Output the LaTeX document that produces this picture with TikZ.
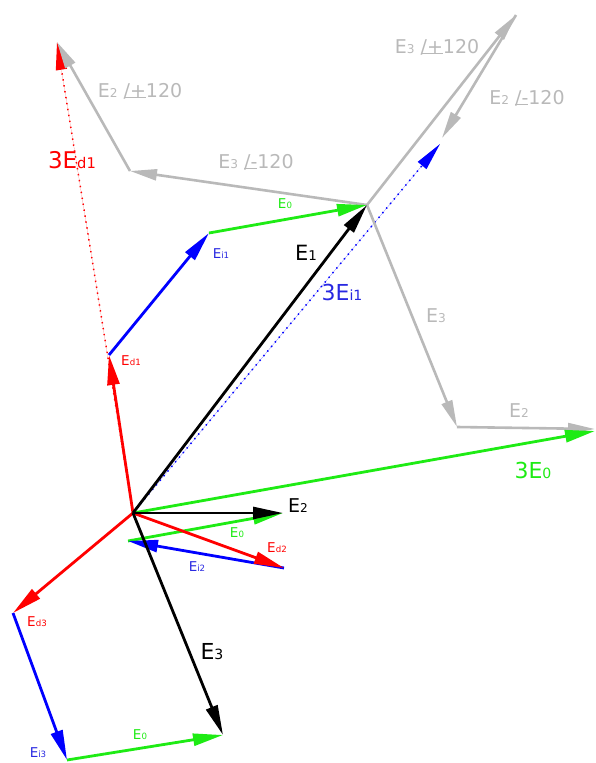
\documentclass[tikz,border=0pt]{standalone}
\usepackage{fontspec}
\setmainfont{DejaVu Sans}
\usetikzlibrary{arrows.meta}
\definecolor{vgreen}{RGB}{30,235,20}
\definecolor{vred}{RGB}{255,0,0}
\definecolor{vblue}{RGB}{0,0,255}
\definecolor{vgray}{RGB}{185,185,185}
\definecolor{tgray}{RGB}{185,185,185}
\definecolor{tblue}{RGB}{40,40,225}
\newsavebox\anglbox
\newcommand\sbx[1]{{\fontsize{0.64em}{0.7em}\selectfont #1}}
\newcommand\angl[1]{\sbox\anglbox{/#1}\rlap{\rule[-0.03em]{\wd\anglbox}{0.06em}}\usebox\anglbox\relax}
\begin{document}
\begin{tikzpicture}[x=1pt,y=-1pt,
  vec/.style={line width=2.8pt,-{Triangle[length=30pt,width=12pt]}},
  gvec/.style={line width=2.6pt,draw=vgray,-{Triangle[length=27pt,width=11pt]}},
  dotvec/.style={line width=1.5pt,dash pattern=on 1.4pt off 4.6pt,-{Triangle[length=28pt,width=11pt]}},
  biglbl/.style={inner sep=0pt,font=\fontsize{21}{24}\selectfont},
  graylbl/.style={inner sep=0pt,text=tgray,font=\fontsize{19}{22}\selectfont},
  smalllbl/.style={inner sep=0pt,font=\fontsize{13.5}{16}\selectfont}]
\useasboundingbox (0,0) rectangle (595,763);
% points
\coordinate (O) at (133,513);
\coordinate (A) at (109,355);
\coordinate (B) at (209,233);
\coordinate (C) at (367,205);
\coordinate (D) at (130,171);
\coordinate (F) at (57,42);
\coordinate (G) at (516,15);
\coordinate (H) at (442,138);
\coordinate (Hb) at (440,144);
\coordinate (I) at (457,427);
\coordinate (J) at (595,429);
\coordinate (K) at (595,431);
\coordinate (L) at (283,513);
\coordinate (M) at (128,541);
\coordinate (N) at (284,568);
\coordinate (P) at (13,613);
\coordinate (Q) at (67,760);
\coordinate (R) at (223,735);
% dotted resultants
\draw[dotvec,draw=vred,fill=vred] (O) -- (F);
\draw[dotvec,draw=vblue,fill=vblue] (O) -- (Hb);
% gray construction
\draw[gvec] (C) -- (D);
\draw[gvec] (D) -- (F);
\draw[gvec] (C) -- (G);
\draw[gvec] (G) -- (H);
\draw[gvec] (C) -- (I);
\draw[gvec] (I) -- (J);
% green
\draw[vec,draw=vgreen] (O) -- (K);
\draw[vec,draw=vgreen] (B) -- (C);
\draw[vec,draw=vgreen] (M) -- (L);
\draw[vec,draw=vgreen] (Q) -- (R);
% blue
\draw[vec,draw=vblue] (A) -- (B);
\draw[vec,draw=vblue] (N) -- (M);
\draw[vec,draw=vblue] (P) -- (Q);
% red
\draw[vec,draw=vred] (O) -- (A);
\draw[vec,draw=vred] (O) -- (N);
\draw[vec,draw=vred] (O) -- (P);
% black
\draw[vec,draw=black] (O) -- (C);
\draw[vec,draw=black] (O) -- (L);
\draw[vec,draw=black] (O) -- (R);
% labels
\node[biglbl] (lE1) at (306,253) {E\sbx{1}};
\node[biglbl,text=tblue,font=\fontsize{22}{24}\selectfont] (l3Ei1) at (342,292) {3E\sbx{i1}};
\node[graylbl] (lE3r) at (436,316) {E\sbx{3}};
\node[graylbl] (lE2r) at (519,411) {E\sbx{2}};
\node[biglbl,text=vgreen,font=\fontsize{22}{24}\selectfont] (l3E0) at (533,470) {3E\sbx{0}};
\node[graylbl] (lE2p) at (140,91) {E\sbx{2} \angl{+}120};
\node[biglbl,text=vred,font=\fontsize{23}{26}\selectfont] (l3Ed1) at (72,160) {3E\sbx{d1}};
\node[graylbl] (lE3m) at (256,162) {E\sbx{3} \angl{-}120};
\node[smalllbl,text=vgreen] (lE0a) at (285,204) {E\sbx{0}};
\node[smalllbl,text=tblue] (lEi1) at (221,254) {E\sbx{i1}};
\node[smalllbl,text=vred] (lEd1) at (131,361) {E\sbx{d1}};
\node[graylbl] (lE3p) at (437,47) {E\sbx{3} \angl{+}120};
\node[graylbl] (lE2m) at (527,98) {E\sbx{2} \angl{-}120};
\node[biglbl,font=\fontsize{19}{22}\selectfont] (lE2) at (298,506) {E\sbx{2}};
\node[smalllbl,text=vgreen] (lE0b) at (237,533) {E\sbx{0}};
\node[smalllbl,text=vred] (lEd2) at (277,548) {E\sbx{d2}};
\node[smalllbl,text=tblue] (lEi2) at (197,567) {E\sbx{i2}};
\node[smalllbl,text=vred] (lEd3) at (37,622) {E\sbx{d3}};
\node[biglbl,font=\fontsize{22}{24}\selectfont] (lE3) at (212,652) {E\sbx{3}};
\node[smalllbl,text=vgreen] (lE0c) at (140,735) {E\sbx{0}};
\node[smalllbl,text=tblue] (lEi3) at (38,753) {E\sbx{i3}};
\end{tikzpicture}
\end{document}
